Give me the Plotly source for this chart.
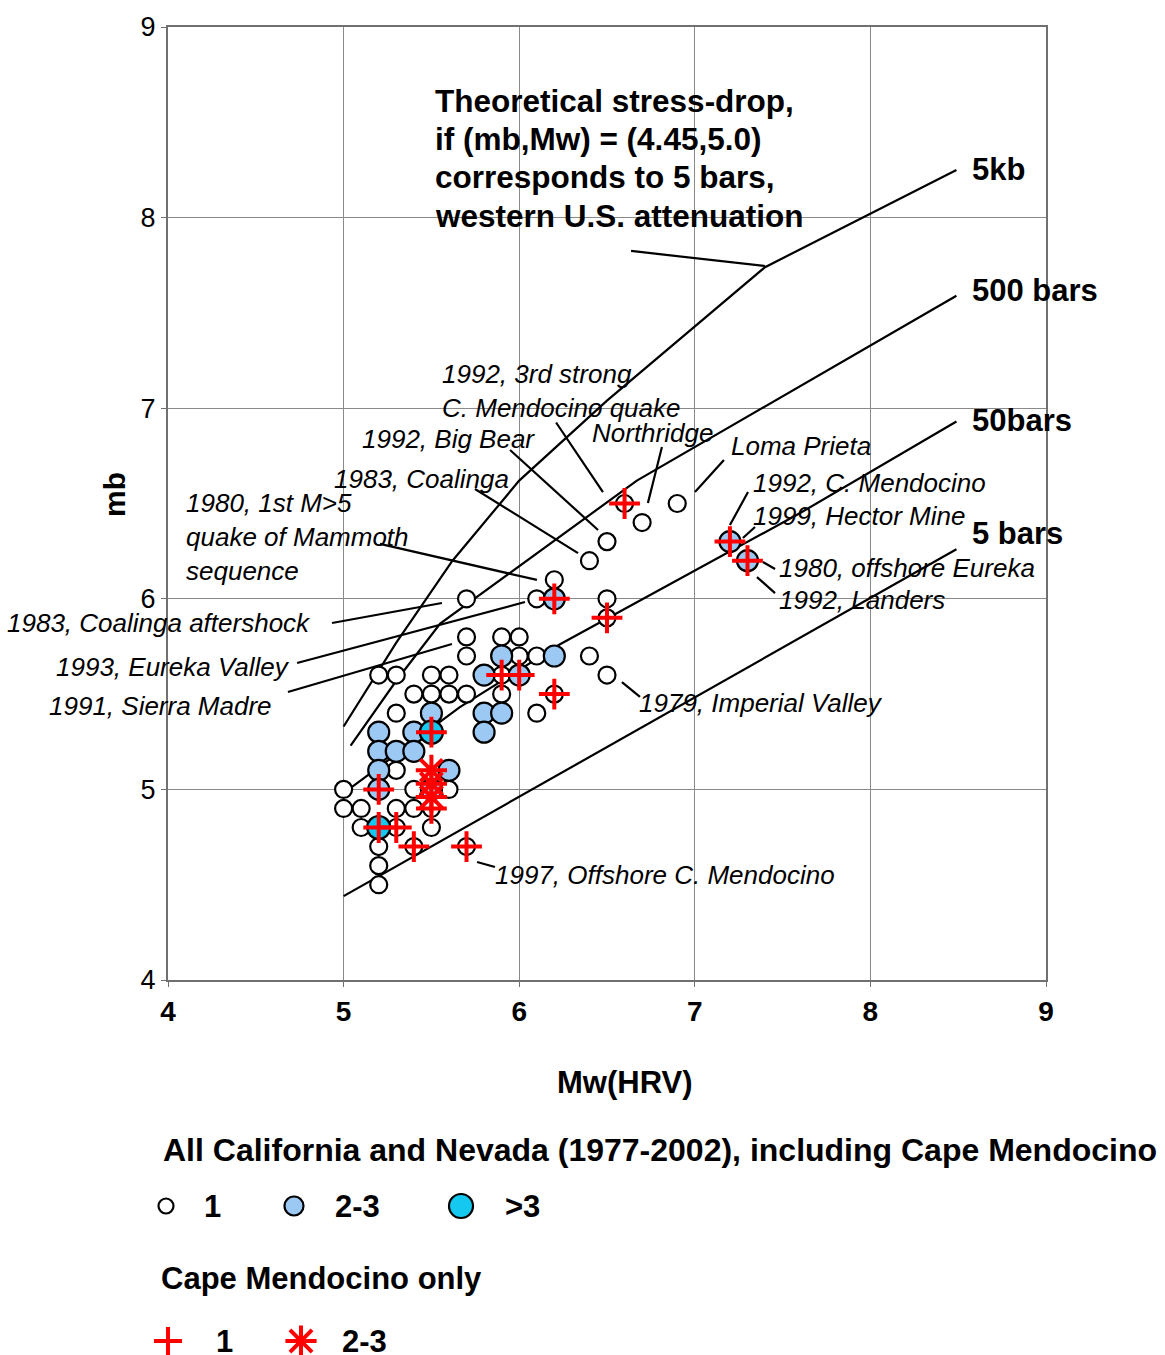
import plotly.graph_objects as go

# ---------------- event data: mb versus Mw(HRV) ----------------
# all California and Nevada events, 1 event per point
one_mw = [6.9, 6.7, 6.6, 6.5, 6.4, 6.2, 6.1, 6.5, 6.5, 5.7, 5.7, 5.9, 6.0, 5.7, 6.0, 6.1,
          6.4, 6.5, 5.9, 5.7, 5.9, 6.2, 6.1, 5.2, 5.3, 5.5, 5.6, 5.4, 5.5, 5.6, 5.3, 5.3,
          5.0, 5.4, 5.6, 5.0, 5.1, 5.3, 5.4, 5.5, 5.1, 5.3, 5.5, 5.2, 5.4, 5.7, 5.2, 5.2]
one_mb = [6.5, 6.4, 6.5, 6.3, 6.2, 6.1, 6.0, 6.0, 5.9, 6.0, 5.8, 5.8, 5.8, 5.7, 5.7, 5.7,
          5.7, 5.6, 5.6, 5.5, 5.5, 5.5, 5.4, 5.6, 5.6, 5.6, 5.6, 5.5, 5.5, 5.5, 5.4, 5.1,
          5.0, 5.0, 5.0, 4.9, 4.9, 4.9, 4.9, 4.9, 4.8, 4.8, 4.8, 4.7, 4.7, 4.7, 4.6, 4.5]
# 2-3 events per point
two_mw = [6.2, 5.9, 6.2, 5.8, 6.0, 5.8, 5.9, 5.8, 5.5, 5.4, 5.2, 5.2, 5.3, 5.4, 5.2, 5.6,
          5.2, 5.5, 7.2, 7.3]
two_mb = [6.0, 5.7, 5.7, 5.6, 5.6, 5.4, 5.4, 5.3, 5.4, 5.3, 5.3, 5.2, 5.2, 5.2, 5.1, 5.1,
          5.0, 5.0, 6.3, 6.2]
# more than 3 events per point
many_mw = [5.5, 5.2]
many_mb = [5.3, 4.8]

# Cape Mendocino only
cm_one_mw = [6.6, 7.2, 7.3, 6.2, 6.5, 5.9, 6.0, 6.2, 5.5, 5.2, 5.5, 5.2, 5.3, 5.4, 5.7]
cm_one_mb = [6.5, 6.3, 6.2, 6.0, 5.9, 5.6, 5.6, 5.5, 5.3, 5.0, 4.9, 4.8, 4.8, 4.7, 4.7]
cm_two_mw = [5.5, 5.5, 5.5]
cm_two_mb = [5.1, 5.03, 4.96]

# ---------------- theoretical stress-drop curves ----------------
curve_names = ["5kb", "500 bars", "50bars", "5 bars"]
curve_mw = [
    [5.0, 5.3, 5.62, 6.0, 6.5, 7.0, 7.4, 8.49],
    [5.04, 5.3, 5.55, 6.0, 6.67, 8.49],
    [5.0, 5.66, 6.23, 7.6, 8.49],
    [5.0, 8.49],
]
curve_mb = [
    [5.33, 5.77, 6.20, 6.62, 7.04, 7.43, 7.74, 8.25],
    [5.23, 5.57, 5.87, 6.17, 6.62, 7.59],
    [4.98, 5.43, 5.76, 6.45, 6.93],
    [4.44, 6.26],
]
curve_label_mb = [8.250, 7.620, 6.938, 6.345]

x_ticks = [4, 5, 6, 7, 8, 9]
y_ticks = [4, 5, 6, 7, 8, 9]

# ---------------- labelled events: text, Mw, mb, anchor side ----------------
event_labels = [
    ("1992, 3rd strong<br>C. Mendocino quake", 5.549, 7.090, "left"),
    ("1992, Big Bear", 5.093, 6.838, "left"),
    ("Northridge", 6.403, 6.870, "left"),
    ("Loma Prieta", 7.195, 6.802, "left"),
    ("1983, Coalinga", 4.934, 6.629, "left"),
    ("1992, C. Mendocino", 7.320, 6.608, "left"),
    ("1999, Hector Mine", 7.320, 6.434, "left"),
    ("1980, 1st M>5<br>quake of Mammoth<br>sequence", 4.091, 6.324, "left"),
    ("1980, offshore Eureka", 7.468, 6.162, "left"),
    ("1992, Landers", 7.468, 5.994, "left"),
    ("1983, Coalinga aftershock", 4.826, 5.873, "right"),
    ("1993, Eureka Valley", 4.706, 5.642, "right"),
    ("1991, Sierra Madre", 4.604, 5.438, "right"),
    ("1979, Imperial Valley", 6.671, 5.453, "left"),
    ("1997, Offshore C. Mendocino", 5.851, 4.551, "left"),
]
leaders = [
    (6.637, 7.825, 7.400, 7.746),
    (6.210, 6.925, 6.477, 6.560),
    (5.948, 6.781, 6.449, 6.361),
    (5.748, 6.576, 6.335, 6.240),
    (6.813, 6.796, 6.733, 6.503),
    (7.166, 6.728, 7.001, 6.560),
    (7.303, 6.560, 7.200, 6.387),
    (7.343, 6.377, 7.274, 6.319),
    (7.388, 6.193, 7.457, 6.156),
    (7.354, 6.114, 7.457, 6.030),
    (5.207, 6.288, 6.101, 6.099),
    (4.934, 5.873, 5.560, 5.978),
    (4.735, 5.663, 6.033, 5.983),
    (4.683, 5.511, 5.617, 5.763),
    (6.585, 5.563, 6.688, 5.485),
    (5.760, 4.619, 5.862, 4.593),
]
note_lines = ["Theoretical stress-drop,", "if (mb,Mw) = (4.45,5.0)",
              "corresponds to 5 bars,", "western U.S. attenuation"]
note_mb = [8.612, 8.412, 8.213, 8.008]

FONT = "Arial, Liberation Sans, sans-serif"
WHITE_C = dict(color="white", size=17, line=dict(color="black", width=2.2))
BLUE_C = dict(color="#9CC8F4", size=21, line=dict(color="black", width=2.2))
CYAN_C = dict(color="#14C8F0", size=23, line=dict(color="black", width=2.2))
PLUS_M = dict(symbol="cross-thin", color="#FF0000", size=22, line=dict(color="#FF0000", width=4))
AST_M = dict(symbol="asterisk", color="#FF0000", size=26, line=dict(color="#FF0000", width=4))

fig = go.Figure()

for name, xs, ys in zip(curve_names, curve_mw, curve_mb):
    fig.add_trace(go.Scatter(x=xs, y=ys, mode="lines", name=name,
                             line=dict(color="black", width=2.2), showlegend=False))

fig.add_trace(go.Scatter(x=one_mw, y=one_mb, mode="markers", marker=WHITE_C, showlegend=False))
fig.add_trace(go.Scatter(x=two_mw, y=two_mb, mode="markers", marker=BLUE_C, showlegend=False))
fig.add_trace(go.Scatter(x=many_mw, y=many_mb, mode="markers", marker=CYAN_C, showlegend=False))
fig.add_trace(go.Scatter(x=cm_one_mw, y=cm_one_mb, mode="markers", marker=PLUS_M, showlegend=False))
fig.add_trace(go.Scatter(x=cm_two_mw, y=cm_two_mb, mode="markers", marker=AST_M, showlegend=False))

for x0, y0, x1, y1 in leaders:
    fig.add_shape(type="line", x0=x0, y0=y0, x1=x1, y1=y1, xref="x", yref="y",
                  line=dict(color="black", width=2.2))

for text, x, y, side in event_labels:
    fig.add_annotation(x=x, y=y, xref="x", yref="y", text=text, showarrow=False,
                       xanchor=side, yanchor="middle", align="left",
                       font=dict(family=FONT, size=26, style="italic", color="black"))

# curve names at the right-hand ends
for name, y in zip(curve_names, curve_label_mb):
    fig.add_annotation(x=8.567, y=y, xref="x", yref="y", text=f"<b>{name}</b>",
                       showarrow=False, xanchor="left", yanchor="middle",
                       font=dict(family=FONT, size=31, color="black"))

for line, y in zip(note_lines, note_mb):
    fig.add_annotation(x=5.509, y=y, xref="x", yref="y", text=f"<b>{line}</b>",
                       showarrow=False, xanchor="left", yanchor="middle",
                       font=dict(family=FONT, size=31.5, color="black"))

fig.add_annotation(x=4.0, xref="x", y=6.545, yref="y", text="<b>mb</b>", textangle=-90,
                   showarrow=False, xanchor="center", yanchor="middle", xshift=-53,
                   font=dict(family=FONT, size=30, color="black"))

# ---------------- key below the chart (pixel-scaled helper axes) ----------------
W, H = 1165, 1355
KEY_TOP = 1040
key_font = dict(family=FONT, size=31, color="black")

fig.add_annotation(x=624, y=1082, xref="x2", yref="y2", text="<b>Mw(HRV)</b>",
                   showarrow=False, xanchor="center", yanchor="middle", font=key_font)

key_markers = [
    (166, 1206, dict(color="white", size=15, line=dict(color="black", width=2.2))),
    (294, 1206, dict(color="#9CC8F4", size=19, line=dict(color="black", width=2.2))),
    (461, 1206, dict(color="#14C8F0", size=24, line=dict(color="black", width=2.2))),
    (168, 1341, dict(symbol="cross-thin", size=20, line=dict(color="#FF0000", width=4))),
    (301, 1341, dict(symbol="asterisk", size=26, line=dict(color="#FF0000", width=4))),
]
for kx, ky, km in key_markers:
    fig.add_trace(go.Scatter(x=[kx], y=[ky], xaxis="x2", yaxis="y2", mode="markers",
                             marker=km, cliponaxis=False, showlegend=False, hoverinfo="skip"))

key_texts = [
    ("<b>All California and Nevada (1977-2002), including Cape Mendocino</b>", 162, 1150, 32),
    ("<b>1</b>", 203, 1206, 31),
    ("<b>2-3</b>", 334, 1206, 31),
    ("<b>>3</b>", 504, 1206, 31),
    ("<b>Cape Mendocino only</b>", 160, 1278, 31),
    ("<b>1</b>", 215, 1341, 31),
    ("<b>2-3</b>", 341, 1341, 31),
]
for text, x, y, size in key_texts:
    fig.add_annotation(x=x, y=y, xref="x2", yref="y2", text=text, showarrow=False,
                       xanchor="left", yanchor="middle", borderpad=0,
                       font=dict(family=FONT, size=size, color="black"))

PLOT_L, PLOT_R, PLOT_T, PLOT_B = 168, 1046, 27, 980

axis_common = dict(range=[4, 9], showgrid=True, gridcolor="#8a8a8a", gridwidth=1,
                   showline=True, linecolor="#707070", linewidth=2, mirror=True,
                   ticks="outside", ticklen=5, tickcolor="#707070",
                   zeroline=False, automargin=False)

fig.update_layout(
    width=W, height=H,
    margin=dict(l=0, r=0, t=0, b=0),
    paper_bgcolor="white", plot_bgcolor="white",
    font=dict(family=FONT, color="black"),
    xaxis=dict(**axis_common, domain=[PLOT_L / W, PLOT_R / W], anchor="y",
               tickvals=x_ticks, ticktext=[f"<b>{v}</b>" for v in x_ticks],
               tickfont=dict(family=FONT, size=28, color="black")),
    yaxis=dict(**axis_common, domain=[(H - PLOT_B) / H, (H - PLOT_T) / H], anchor="x",
               tickvals=y_ticks, tickfont=dict(family=FONT, size=27, color="black")),
    xaxis2=dict(range=[0, W], domain=[0, 1], anchor="y2", visible=False,
                fixedrange=True, automargin=False),
    yaxis2=dict(range=[H, KEY_TOP], domain=[0, (H - KEY_TOP) / H], anchor="x2",
                visible=False, fixedrange=True, automargin=False),
)

fig.write_html("out.html")
